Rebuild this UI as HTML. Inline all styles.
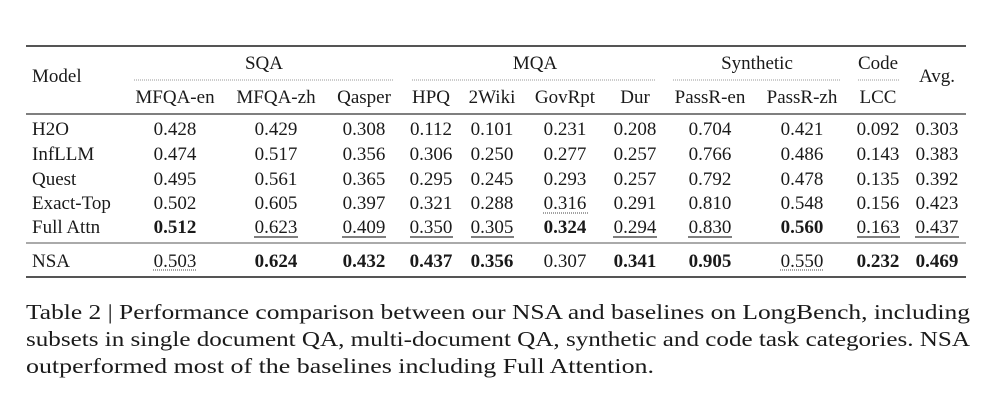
<!DOCTYPE html>
<html><head><meta charset="utf-8"><style>
html,body{margin:0;padding:0;background:#fff;}
svg{display:block}
text{font-family:"Liberation Serif","DejaVu Serif",serif;fill:#1a1a1a;font-size:19px}
.b{font-weight:bold}
</style></head><body>
<svg width="1000" height="407" viewBox="0 0 1000 407">
<g stroke="#555">
<line x1="26" y1="46" x2="966" y2="46" stroke-width="2"/>
<line x1="26" y1="114" x2="966" y2="114" stroke-width="1.5"/>
<line x1="26" y1="243" x2="966" y2="243" stroke-width="1"/>
<line x1="26" y1="277" x2="966" y2="277" stroke-width="2"/>
</g>
<g stroke="#999" stroke-width="1" stroke-dasharray="1,1">
<line x1="134" y1="80" x2="393" y2="80"/>
<line x1="412" y1="80" x2="655" y2="80"/>
<line x1="673" y1="80" x2="840" y2="80"/>
<line x1="858" y1="80" x2="900" y2="80"/>
</g>
<text x="32" y="82">Model</text>
<text x="264" y="69" text-anchor="middle">SQA</text>
<text x="535" y="69" text-anchor="middle">MQA</text>
<text x="757" y="69" text-anchor="middle">Synthetic</text>
<text x="878" y="69" text-anchor="middle">Code</text>
<text x="937" y="82" text-anchor="middle">Avg.</text>
<g text-anchor="middle">
<text x="175" y="103">MFQA-en</text><text x="276" y="103">MFQA-zh</text><text x="364" y="103">Qasper</text>
<text x="431" y="103">HPQ</text><text x="492" y="103">2Wiki</text><text x="565" y="103">GovRpt</text>
<text x="635" y="103">Dur</text><text x="710" y="103">PassR-en</text><text x="802" y="103">PassR-zh</text>
<text x="878" y="103">LCC</text>
</g>
<g id="rows" text-anchor="middle">
<text x="32" y="135" text-anchor="start">H2O</text>
<text x="175" y="135">0.428</text><text x="276" y="135">0.429</text><text x="364" y="135">0.308</text><text x="431" y="135">0.112</text><text x="492" y="135">0.101</text><text x="565" y="135">0.231</text><text x="635" y="135">0.208</text><text x="710" y="135">0.704</text><text x="802" y="135">0.421</text><text x="878" y="135">0.092</text><text x="937" y="135">0.303</text>
<text x="32" y="160" text-anchor="start">InfLLM</text>
<text x="175" y="160">0.474</text><text x="276" y="160">0.517</text><text x="364" y="160">0.356</text><text x="431" y="160">0.306</text><text x="492" y="160">0.250</text><text x="565" y="160">0.277</text><text x="635" y="160">0.257</text><text x="710" y="160">0.766</text><text x="802" y="160">0.486</text><text x="878" y="160">0.143</text><text x="937" y="160">0.383</text>
<text x="32" y="185" text-anchor="start">Quest</text>
<text x="175" y="185">0.495</text><text x="276" y="185">0.561</text><text x="364" y="185">0.365</text><text x="431" y="185">0.295</text><text x="492" y="185">0.245</text><text x="565" y="185">0.293</text><text x="635" y="185">0.257</text><text x="710" y="185">0.792</text><text x="802" y="185">0.478</text><text x="878" y="185">0.135</text><text x="937" y="185">0.392</text>
<text x="32" y="209" text-anchor="start">Exact-Top</text>
<text x="175" y="209">0.502</text><text x="276" y="209">0.605</text><text x="364" y="209">0.397</text><text x="431" y="209">0.321</text><text x="492" y="209">0.288</text><text x="565" y="209">0.316</text><text x="635" y="209">0.291</text><text x="710" y="209">0.810</text><text x="802" y="209">0.548</text><text x="878" y="209">0.156</text><text x="937" y="209">0.423</text>
<text x="32" y="233" text-anchor="start">Full Attn</text>
<text x="175" y="233" class="b">0.512</text><text x="276" y="233">0.623</text><text x="364" y="233">0.409</text><text x="431" y="233">0.350</text><text x="492" y="233">0.305</text><text x="565" y="233" class="b">0.324</text><text x="635" y="233">0.294</text><text x="710" y="233">0.830</text><text x="802" y="233" class="b">0.560</text><text x="878" y="233">0.163</text><text x="937" y="233">0.437</text>
<text x="32" y="267" text-anchor="start">NSA</text>
<text x="175" y="267">0.503</text><text x="276" y="267" class="b">0.624</text><text x="364" y="267" class="b">0.432</text><text x="431" y="267" class="b">0.437</text><text x="492" y="267" class="b">0.356</text><text x="565" y="267">0.307</text><text x="635" y="267" class="b">0.341</text><text x="710" y="267" class="b">0.905</text><text x="802" y="267">0.550</text><text x="878" y="267" class="b">0.232</text><text x="937" y="267" class="b">0.469</text>
</g>
<g stroke="#333" stroke-width="1.3">
<line x1="254" y1="237" x2="298" y2="237"/><line x1="342" y1="237" x2="386" y2="237"/>
<line x1="410" y1="237" x2="453" y2="237"/><line x1="471" y1="237" x2="514" y2="237"/>
<line x1="613" y1="237" x2="657" y2="237"/><line x1="688" y1="237" x2="732" y2="237"/>
<line x1="857" y1="237" x2="900" y2="237"/><line x1="915" y1="237" x2="959" y2="237"/>
</g>
<g stroke="#444" stroke-width="1" stroke-dasharray="1,1">
<line x1="153" y1="270" x2="197" y2="270"/>
<line x1="543" y1="213" x2="588" y2="213"/>
<line x1="780" y1="270" x2="824" y2="270"/>
</g>
<text x="26" y="319" textLength="944" lengthAdjust="spacingAndGlyphs" style="font-size:21px">Table 2 | Performance comparison between our NSA and baselines on LongBench, including</text>
<text x="26" y="346" textLength="944" lengthAdjust="spacingAndGlyphs" style="font-size:21px">subsets in single document QA, multi-document QA, synthetic and code task categories. NSA</text>
<text x="26" y="373" textLength="628" lengthAdjust="spacingAndGlyphs" style="font-size:21px">outperformed most of the baselines including Full Attention.</text>
</svg>
</body></html>
